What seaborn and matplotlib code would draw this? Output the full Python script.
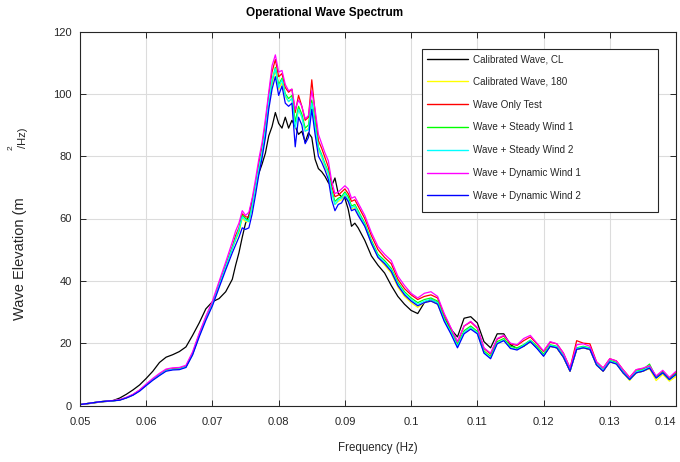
import numpy as np
import pandas as pd
import matplotlib
matplotlib.use("Agg")
import matplotlib.pyplot as plt
from matplotlib.patches import Rectangle
import seaborn as sns

# ---- data -------------------------------------------------------------
freq_low = [0.050, 0.051, 0.052, 0.053, 0.054, 0.055, 0.056, 0.057, 0.058, 0.059,
            0.060, 0.061, 0.062, 0.063, 0.064, 0.065, 0.066, 0.067, 0.068, 0.069,
            0.070, 0.071, 0.072, 0.073]
freq_peak = [0.0735, 0.0740, 0.0745, 0.0750, 0.0755, 0.0760, 0.0765, 0.0770, 0.0775, 0.0780,
             0.0785, 0.0790, 0.0795, 0.0800, 0.0805, 0.0810, 0.0815, 0.0820, 0.0825, 0.0830,
             0.0835, 0.0840, 0.0845, 0.0850, 0.0855, 0.0860, 0.0865, 0.0870, 0.0875, 0.0880,
             0.0885, 0.0890, 0.0895, 0.0900, 0.0905, 0.0910, 0.0915, 0.0920]
freq_tail = [0.093, 0.094, 0.095, 0.096, 0.097, 0.098, 0.099, 0.100, 0.101, 0.102,
             0.103, 0.104, 0.105, 0.106, 0.107, 0.108, 0.109, 0.110, 0.111, 0.112,
             0.113, 0.114, 0.115, 0.116, 0.117, 0.118, 0.119, 0.120, 0.121, 0.122,
             0.123, 0.124, 0.125, 0.126, 0.127, 0.128, 0.129, 0.130, 0.131, 0.132,
             0.133, 0.134, 0.135, 0.136, 0.137, 0.138, 0.139, 0.140]
frequency = freq_low + freq_peak + freq_tail

cal_cl = [0.3, 0.5, 0.8, 1.1, 1.3, 1.6, 2.4, 3.6, 5.0, 6.6, 8.7, 11.0, 13.8, 15.5, 16.3, 17.3,
          18.8, 22.5, 26.5, 31.0, 33.3, 34.3, 36.5, 40.5,
          45.0, 49.0, 54.0, 58.5, 61.0, 66.0, 70.5, 74.5, 77.5, 81.0, 86.5, 89.5, 94.0, 90.5,
          89.0, 92.5, 89.0, 91.5, 89.5, 87.0, 88.0, 84.5, 87.5, 86.0, 79.0, 76.0, 75.0, 73.5,
          71.5, 70.5, 73.0, 68.0, 67.0, 66.5, 63.0, 57.5, 58.5, 57.0,
          53.0, 48.0, 45.0, 42.5, 38.5, 35.0, 32.5, 30.5, 29.5, 33.0, 34.0, 33.0, 28.0, 24.5,
          22.0, 28.0, 28.5, 26.5, 20.5, 18.5, 23.0, 23.0, 19.5, 18.3, 19.0, 20.5, 18.5, 16.0,
          19.0, 18.5, 15.5, 11.0, 18.0, 18.5, 18.0, 13.0, 11.0, 14.0, 13.5, 10.5, 8.5, 10.5,
          11.0, 12.0, 9.0, 10.5, 8.5, 10.0]

cal_180 = [0.3, 0.6, 0.9, 1.2, 1.4, 1.5, 1.8, 2.5, 3.4, 4.8, 6.6, 8.3, 9.8, 11.2, 11.6, 11.7,
           12.4, 16.5, 22.5, 27.8, 32.5, 38.5, 44.5, 50.5,
           53.0, 55.5, 60.0, 59.0, 59.0, 63.5, 69.5, 75.5, 80.5, 87.5, 96.0, 103.0, 107.5, 101.5,
           103.5, 99.0, 97.5, 98.5, 90.0, 95.0, 92.5, 88.0, 89.0, 96.5, 90.0, 82.0, 79.5, 76.5,
           74.0, 68.0, 64.5, 65.5, 66.0, 67.5, 65.5, 63.0, 63.5, 61.5,
           57.5, 52.0, 47.5, 45.0, 42.5, 38.0, 35.0, 33.0, 31.5, 33.0, 33.5, 32.5, 27.3, 23.5,
           19.0, 23.5, 25.0, 23.3, 17.0, 15.3, 20.0, 21.0, 18.5, 18.0, 19.0, 20.5, 18.5, 16.0,
           19.0, 18.5, 15.5, 11.0, 18.0, 18.5, 18.0, 13.0, 11.0, 14.0, 13.3, 10.5, 8.0, 10.5,
           11.0, 11.8, 8.0, 10.0, 7.8, 9.3]

wave_only = [0.3, 0.6, 0.9, 1.2, 1.4, 1.5, 1.8, 2.5, 3.5, 4.9, 6.7, 8.4, 10.0, 11.4, 11.8, 11.9,
             12.6, 16.8, 22.8, 28.2, 33.0, 39.0, 45.0, 51.0,
             54.5, 57.0, 61.5, 60.5, 60.5, 65.0, 71.0, 77.5, 83.0, 90.5, 99.5, 107.0, 111.0, 105.5,
             106.5, 102.0, 100.5, 101.5, 94.0, 99.5, 96.0, 91.5, 92.5, 104.5, 94.0, 85.0, 82.5, 79.5,
             76.5, 70.5, 67.0, 67.5, 68.5, 69.5, 68.0, 65.5, 66.0, 64.0,
             60.0, 54.5, 50.0, 47.5, 45.5, 40.5, 37.5, 35.5, 34.0, 35.0, 35.5, 34.5, 29.0, 24.8,
             20.3, 25.5, 26.8, 24.8, 18.3, 16.5, 21.3, 22.3, 19.8, 19.3, 20.8, 22.0, 19.8, 17.3,
             20.3, 19.8, 16.8, 12.0, 20.8, 20.0, 19.8, 14.0, 12.0, 15.0, 14.3, 11.5, 9.0, 11.5,
             11.8, 12.5, 9.3, 11.0, 8.8, 10.6]

steady_1 = [0.3, 0.6, 0.9, 1.2, 1.4, 1.5, 1.8, 2.5, 3.4, 4.8, 6.6, 8.3, 9.8, 11.2, 11.6, 11.7,
            12.4, 16.5, 22.5, 27.8, 32.5, 38.5, 44.5, 50.5,
            53.5, 56.0, 61.0, 60.0, 59.5, 64.0, 70.0, 76.0, 81.0, 88.0, 97.0, 104.0, 108.5, 103.0,
            105.0, 100.0, 98.5, 99.5, 91.0, 96.0, 93.5, 89.0, 90.0, 98.0, 91.0, 83.0, 80.5, 77.5,
            75.0, 69.0, 65.5, 66.5, 67.0, 68.5, 67.0, 64.0, 64.5, 62.5,
            58.5, 53.0, 48.5, 46.5, 44.0, 39.5, 36.5, 34.5, 33.0, 34.0, 34.5, 33.5, 28.0, 24.0,
            19.5, 24.0, 25.5, 23.8, 17.5, 15.8, 20.5, 21.5, 19.0, 18.5, 19.5, 21.0, 19.0, 16.5,
            19.5, 19.0, 16.0, 11.5, 18.5, 19.0, 18.5, 13.5, 11.5, 14.5, 13.8, 11.0, 8.5, 11.0,
            11.5, 13.3, 9.0, 10.8, 8.5, 10.3]

steady_2 = [0.3, 0.6, 0.9, 1.2, 1.4, 1.5, 1.8, 2.5, 3.4, 4.8, 6.6, 8.3, 9.8, 11.2, 11.6, 11.7,
            12.4, 16.5, 22.5, 27.8, 32.5, 38.5, 44.5, 50.5,
            53.5, 56.5, 60.5, 59.5, 59.0, 64.0, 70.0, 76.0, 81.5, 88.5, 97.5, 104.5, 108.0, 102.0,
            104.5, 99.5, 97.5, 98.5, 89.0, 95.0, 92.5, 88.0, 88.5, 97.0, 89.5, 82.5, 80.0, 77.0,
            74.5, 68.5, 64.5, 66.0, 66.5, 68.0, 66.0, 63.5, 64.0, 62.0,
            58.0, 52.5, 48.0, 46.0, 43.5, 39.0, 36.0, 34.0, 32.5, 33.5, 34.0, 33.0, 27.5, 23.5,
            19.0, 23.5, 25.0, 23.3, 17.0, 15.3, 20.0, 21.0, 18.5, 18.0, 19.3, 20.8, 18.5, 16.0,
            19.3, 18.8, 15.8, 11.3, 18.3, 18.8, 18.3, 13.3, 11.3, 14.3, 13.5, 10.8, 8.3, 10.8,
            11.3, 12.3, 8.8, 10.5, 8.3, 10.0]

dynamic_1 = [0.3, 0.6, 0.9, 1.2, 1.4, 1.6, 1.9, 2.6, 3.6, 5.0, 6.9, 8.7, 10.3, 11.7, 12.1, 12.2,
             12.9, 17.2, 23.2, 28.6, 33.5, 39.8, 46.0, 52.5,
             56.0, 58.5, 62.5, 61.0, 62.0, 66.5, 72.5, 79.0, 84.5, 92.0, 100.5, 109.0, 112.5, 107.0,
             107.5, 103.0, 101.0, 101.5, 95.0, 98.0, 96.0, 92.0, 93.0, 101.0, 95.0, 87.0, 84.0, 81.0,
             78.5, 72.0, 68.0, 68.5, 69.5, 70.5, 69.5, 66.5, 67.0, 65.0,
             61.0, 55.5, 51.0, 48.5, 46.5, 41.5, 38.5, 36.0, 34.5, 36.0, 36.5, 35.0, 29.5, 25.0,
             20.5, 25.5, 27.0, 25.0, 18.5, 16.8, 21.5, 22.5, 20.0, 19.5, 21.5, 22.5, 20.0, 17.5,
             20.5, 19.8, 16.8, 12.0, 19.5, 19.8, 19.0, 14.0, 12.0, 15.0, 14.3, 11.5, 9.0, 11.5,
             12.0, 12.8, 9.5, 11.3, 9.0, 11.0]

dynamic_2 = [0.3, 0.6, 0.9, 1.2, 1.4, 1.5, 1.7, 2.4, 3.3, 4.6, 6.4, 8.1, 9.6, 11.0, 11.4, 11.5,
             12.2, 16.2, 22.0, 27.3, 32.0, 37.8, 43.5, 49.0,
             51.5, 54.0, 57.0, 56.5, 57.0, 61.5, 67.5, 74.0, 79.5, 86.0, 95.0, 101.5, 105.5, 99.5,
             102.5, 97.0, 96.0, 97.0, 83.0, 92.5, 90.0, 84.0, 86.0, 95.0, 87.0, 80.0, 78.0, 75.5,
             72.5, 66.0, 62.5, 64.5, 65.0, 67.0, 65.5, 62.5, 63.0, 61.0,
             57.5, 52.0, 47.5, 45.5, 43.0, 38.5, 35.5, 33.5, 32.0, 33.0, 33.5, 32.5, 27.0, 23.0,
             18.5, 23.0, 24.5, 23.0, 16.8, 15.0, 19.8, 20.8, 18.3, 17.8, 19.0, 20.5, 18.3, 15.8,
             19.0, 18.5, 15.5, 11.0, 18.0, 18.5, 18.0, 13.0, 11.0, 14.0, 13.3, 10.5, 8.3, 10.5,
             11.0, 12.0, 8.8, 10.5, 8.3, 10.0]

series_names = ["Calibrated Wave, CL", "Calibrated Wave, 180", "Wave Only Test",
                "Wave + Steady Wind 1", "Wave + Steady Wind 2",
                "Wave + Dynamic Wind 1", "Wave + Dynamic Wind 2"]
series_values = [cal_cl, cal_180, wave_only, steady_1, steady_2, dynamic_1, dynamic_2]
series_colors = ["#000000", "#FFFF00", "#FF0000", "#00FF00", "#00FFFF", "#FF00FF", "#0000FF"]

x_ticks = [0.05, 0.06, 0.07, 0.08, 0.09, 0.10, 0.11, 0.12, 0.13, 0.14]
x_tick_labels = ["0.05", "0.06", "0.07", "0.08", "0.09", "0.1", "0.11", "0.12", "0.13", "0.14"]
y_ticks = [0, 20, 40, 60, 80, 100, 120]

frames = []
for name, vals in zip(series_names, series_values):
    frames.append(pd.DataFrame({"Frequency": frequency, "Value": vals, "Series": name}))
df = pd.concat(frames, ignore_index=True)

# ---- plot -------------------------------------------------------------
sns.set_style("white")
plt.rcParams["font.family"] = ["Liberation Sans", "DejaVu Sans"]

W, H = 680, 462
fig = plt.figure(figsize=(6.8, 4.62), dpi=100)
ax = fig.add_axes([80 / W, 1 - 405.5 / H, 596 / W, 374 / H])

sns.lineplot(data=df, x="Frequency", y="Value", hue="Series", hue_order=series_names,
             palette=dict(zip(series_names, series_colors)), estimator=None, sort=False,
             linewidth=0.9, ax=ax, legend=True)

ax.set_xlim(0.05, 0.14)
ax.set_ylim(0, 120)
ax.set_xticks(x_ticks)
ax.set_xticklabels(x_tick_labels)
ax.set_yticks(y_ticks)
ax.grid(True, color="#dcdcdc", linewidth=0.8)
ax.set_axisbelow(True)
for side in ["left", "bottom", "top", "right"]:
    ax.spines[side].set_visible(True)
    ax.spines[side].set_color("#262626")
    ax.spines[side].set_linewidth(0.8)
ax.tick_params(axis="both", direction="in", length=4, width=0.7, color="#262626",
               labelsize=8, labelcolor="#262626", top=True, right=True,
               bottom=True, left=True)
ax.tick_params(axis="x", pad=8)
ax.tick_params(axis="y", pad=6)
# last x label kept inside the canvas
ax.get_xticklabels()[-1].set_horizontalalignment("right")

ax.set_xlabel("Frequency (Hz)", fontsize=8.3, color="#262626", labelpad=11)
ax.set_ylabel("")

fig.text(325 / W, 1 - 13 / H, "Operational Wave Spectrum", fontsize=8.5, fontweight="bold",
         color="black", ha="center", va="center")

# y label pieces (as rendered in the original)
fig.text(20 / W, 1 - 258.5 / H, "Wave Elevation (m", rotation=90, fontsize=10.5,
         color="#262626", ha="center", va="center")
fig.text(11 / W, 1 - 148 / H, "2", rotation=90, fontsize=6,
         color="#262626", ha="center", va="center")
fig.text(22.5 / W, 1 - 138 / H, "/Hz)", rotation=90, fontsize=8,
         color="#262626", ha="center", va="center")

# legend: entries without frame + MATLAB-like wide box
handles, labels = ax.get_legend_handles_labels()
leg = ax.legend(handles, labels, loc="upper left",
                bbox_to_anchor=((426.7 - 80) / 596, (405.5 - 54.0) / 374),
                borderaxespad=0, borderpad=0, fontsize=7.1, frameon=False,
                labelspacing=1.3, handlelength=4.2, handletextpad=0.45)
for line in leg.get_lines():
    line.set_linewidth(1.0)
frame = Rectangle(((421.7 - 80) / 596, (405.5 - 212.3) / 374),
                  (658.3 - 421.7) / 596, (212.3 - 49.3) / 374,
                  transform=ax.transAxes, facecolor="white", edgecolor="#262626",
                  linewidth=0.8, zorder=4.5)
ax.add_patch(frame)
leg.set_zorder(5)

fig.savefig("out.png", dpi=100)
